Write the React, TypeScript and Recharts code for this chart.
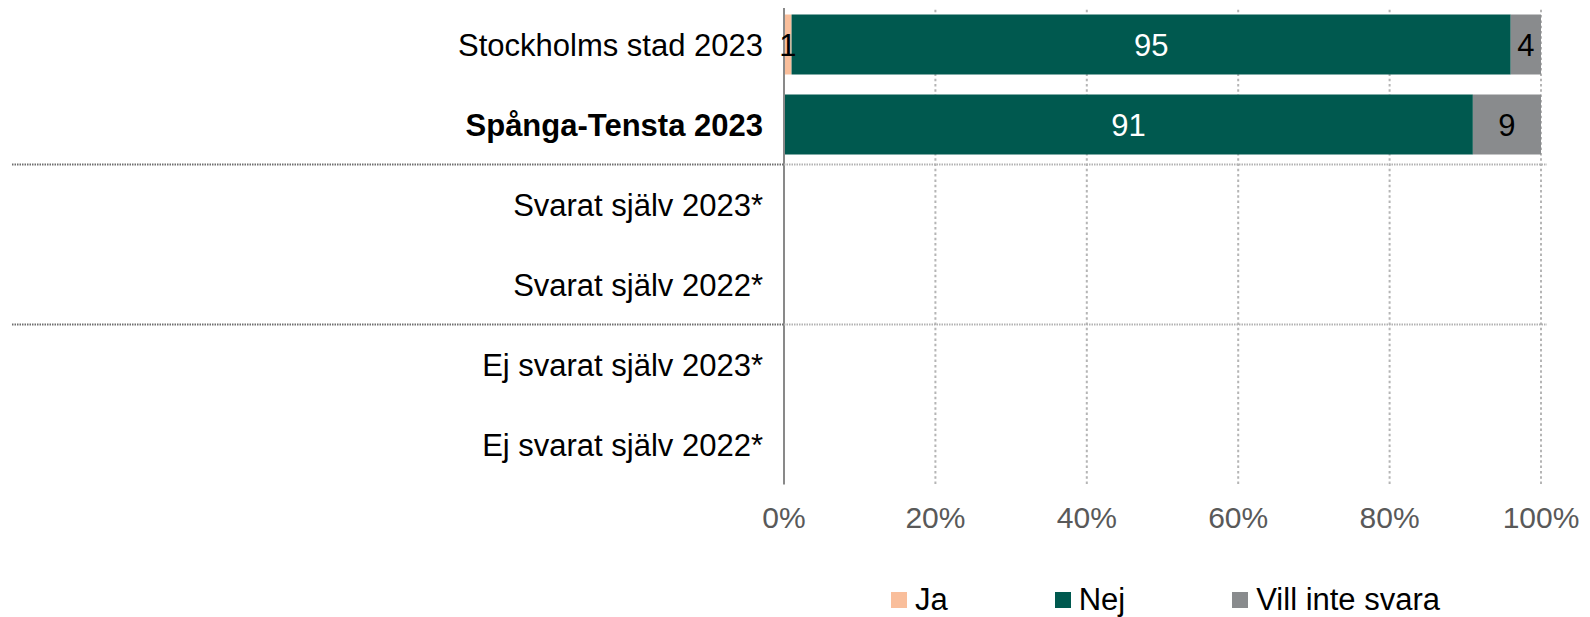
import React from 'react';
import { BarChart, Bar, XAxis, YAxis, CartesianGrid, LabelList, Legend } from 'recharts';

// Survey answers per group (percent)
const CATEGORIES = [
  'Stockholms stad 2023',
  'Spånga-Tensta 2023',
  'Svarat själv 2023*',
  'Svarat själv 2022*',
  'Ej svarat själv 2023*',
  'Ej svarat själv 2022*',
];
const JA: (number | null)[] = [1, null, null, null, null, null];
const NEJ: (number | null)[] = [95, 91, null, null, null, null];
const VILL_INTE_SVARA: (number | null)[] = [4, 9, null, null, null, null];
const X_TICKS = [0, 20, 40, 60, 80, 100];
const BOLD_CATEGORY = 'Spånga-Tensta 2023';
// a group separator is drawn below these category indices
const GROUP_ENDS = [1, 3];

const SERIES = [
  { key: 'ja', name: 'Ja', color: '#F9BE9B', labelColor: '#000000' },
  { key: 'nej', name: 'Nej', color: '#00594F', labelColor: '#FFFFFF' },
  { key: 'vill', name: 'Vill inte svara', color: '#898B8D', labelColor: '#000000' },
];

const data = CATEGORIES.map((name, i) => ({
  name,
  ja: JA[i],
  nej: NEJ[i],
  vill: VILL_INTE_SVARA[i],
}));

// layout
const W = 1590;
const H = 617;
const MARGIN = { top: 4.5, right: 49, bottom: 40.5, left: 0 };
const Y_AXIS_W = 784;
const X_AXIS_H = 60;
const LEGEND_H = 32;
const PLOT_H = H - MARGIN.top - MARGIN.bottom - X_AXIS_H - LEGEND_H;
const PLOT_RIGHT = W - MARGIN.right;
const FONT = '"Liberation Sans", Arial, sans-serif';

const CategoryTick = (props: any) => {
  const { x, y, payload, index } = props;
  const band = PLOT_H / CATEGORIES.length;
  const isBold = payload.value === BOLD_CATEGORY;
  const sepY = y + band / 2;
  return (
    <g>
      <text
        x={x}
        y={y}
        dy="0.358em"
        textAnchor="end"
        fontSize={31}
        fontWeight={isBold ? 'bold' : 'normal'}
        fill="#000000"
        fontFamily={FONT}
      >
        {payload.value}
      </text>
      {GROUP_ENDS.includes(index) && (
        <g>
          <line x1={12} x2={Y_AXIS_W} y1={sepY} y2={sepY} stroke="#6e6e6e" strokeWidth={2} strokeDasharray="1.5 1" />
          <line x1={Y_AXIS_W} x2={PLOT_RIGHT + 6} y1={sepY} y2={sepY} stroke="#b3b3b3" strokeWidth={2} strokeDasharray="1.5 1" />
        </g>
      )}
    </g>
  );
};

const LegendContent = (props: any) => {
  const { payload } = props;
  return (
    <div style={{ display: 'flex', justifyContent: 'center', alignItems: 'center', height: LEGEND_H, gap: 107 }}>
      {(payload || []).map((entry: any) => (
        <div key={entry.value} style={{ display: 'flex', alignItems: 'center' }}>
          <span style={{ display: 'inline-block', width: 16, height: 16, background: entry.color, marginRight: 8 }} />
          <span style={{ fontSize: 31, color: '#000000', fontFamily: FONT, lineHeight: '32px' }}>{entry.value}</span>
        </div>
      ))}
    </div>
  );
};

const labelFormatter = (v: any) => (v === null || v === undefined || v === 0 ? '' : v);

export default function App() {
  return (
    <div style={{ margin: '-8px 0 0 -8px', width: W, height: H, fontFamily: FONT, background: '#ffffff' }}>
      <BarChart
        width={W}
        height={H}
        data={data}
        layout="vertical"
        margin={MARGIN}
        barCategoryGap={10}
      >
        <CartesianGrid
          horizontal={false}
          vertical
          stroke="#b5b5b5"
          strokeWidth={2}
          strokeDasharray="2.5 2.8"
        />
        <XAxis
          type="number"
          domain={[0, 100]}
          ticks={X_TICKS}
          tickFormatter={(v: number) => `${v}%`}
          axisLine={false}
          tickLine={false}
          tickSize={0}
          tickMargin={22}
          height={X_AXIS_H}
          tick={{ fill: '#595959', fontSize: 30, fontFamily: FONT }}
          interval={0}
        />
        <YAxis
          type="category"
          dataKey="name"
          width={Y_AXIS_W}
          axisLine={{ stroke: '#898989', strokeWidth: 2 }}
          tickLine={false}
          tickSize={0}
          tickMargin={21}
          tick={<CategoryTick />}
          interval={0}
        />
        <Legend
          verticalAlign="bottom"
          content={<LegendContent />}
          wrapperStyle={{ top: 584, left: 787, width: 757, height: LEGEND_H }}
        />
        {SERIES.map((s) => (
          <Bar key={s.key} dataKey={s.key} name={s.name} stackId="a" fill={s.color} isAnimationActive={false}>
            <LabelList
              dataKey={s.key}
              position="center"
              fill={s.labelColor}
              fontSize={31}
              fontFamily={FONT}
              formatter={labelFormatter}
            />
          </Bar>
        ))}
      </BarChart>
    </div>
  );
}
